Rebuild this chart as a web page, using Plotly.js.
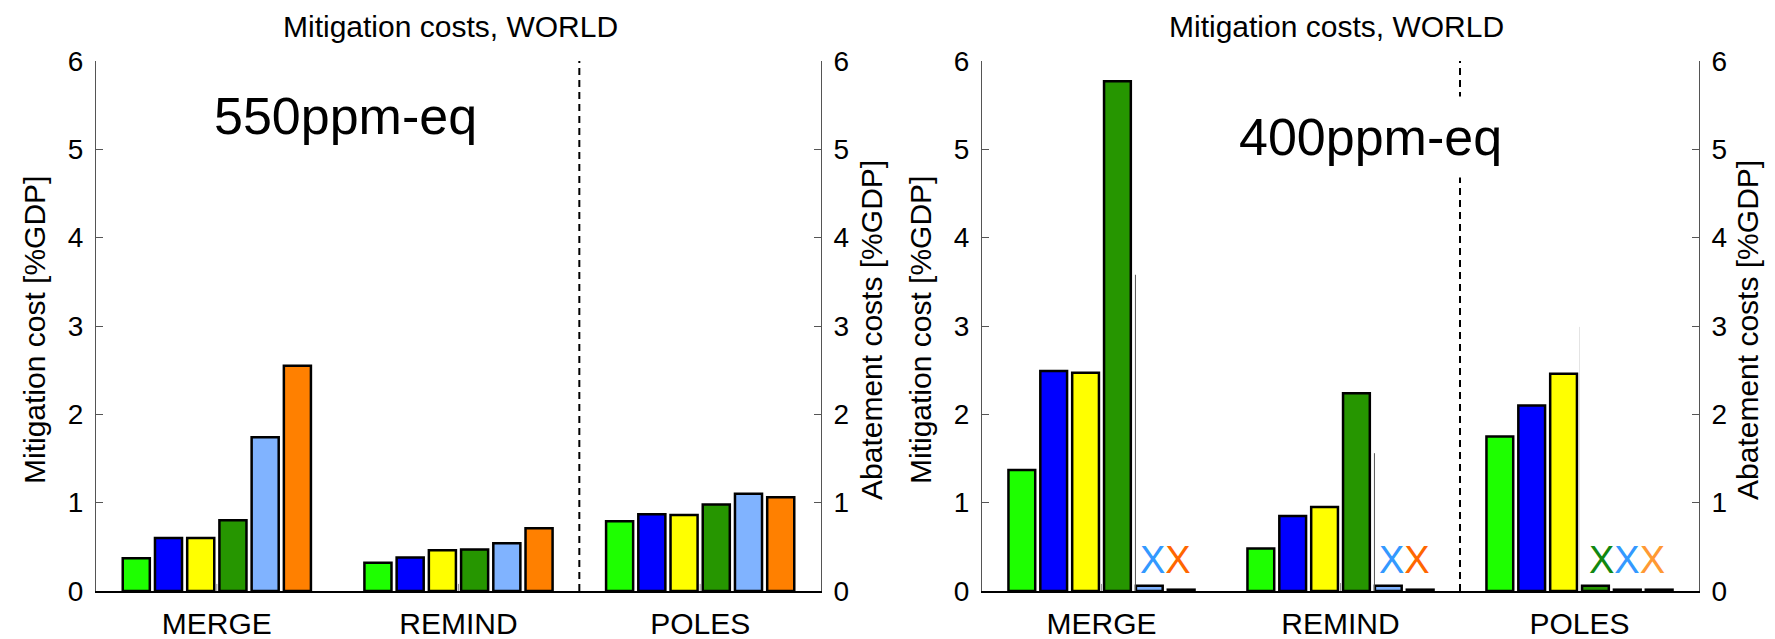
<!DOCTYPE html>
<html>
<head>
<meta charset="utf-8">
<script src="https://cdn.plot.ly/plotly-3.0.1.min.js"></script>
<style>html,body{margin:0;padding:0;background:#fff;}</style>
</head>
<body>
<div id="chart" style="width:1775px;height:639px;"></div>
<script>
// ---------- data ----------
const categories = ['MERGE', 'REMIND', 'POLES'];
const seriesNames = ['Scenario 1', 'Scenario 2', 'Scenario 3', 'Scenario 4', 'Scenario 5', 'Scenario 6'];

// 550ppm-eq mitigation costs [%GDP]
const green550  = [0.37, 0.32, 0.79];
const blue550   = [0.60, 0.38, 0.87];
const yellow550 = [0.60, 0.46, 0.86];
const dgreen550 = [0.80, 0.47, 0.98];
const lblue550  = [1.74, 0.54, 1.10];
const orange550 = [2.55, 0.71, 1.06];

// 400ppm-eq mitigation costs [%GDP]
const green400  = [1.37, 0.48, 1.75];
const blue400   = [2.49, 0.85, 2.10];
const yellow400 = [2.47, 0.95, 2.46];
const dgreen400 = [5.77, 2.24, 0.06];
const lblue400  = [0.06, 0.06, 0.015];
const orange400 = [0.015, 0.015, 0.015];

// abatement costs [%GDP] (thin grey marks, right axis)
const abate550Center = [0.08, 0.08, 0.08];
const abate400Center = [0.08, 0.09, 2.99];
const abate400Side   = [3.58, 1.56, null];

// infeasible scenarios (series index) marked with X in 400ppm-eq panel
const failed400 = [[4, 5], [4, 5], [3, 4, 5]];

// ---------- styles ----------
const barColors = ['#1EFF00', '#0000FF', '#FFFF00', '#269600', '#80B3FF', '#FF8000'];
const xMarkColors = [
  ['#3399FF', '#FF6600'],
  ['#3399FF', '#FF6600'],
  ['#118811', '#3399FF', '#FF9933']
];
const W = 1775, H = 639;
const plotTop = 61, plotBottom = 591;
const leftDom = [96 / W, 821 / W];
const rightDom = [982 / W, 1699 / W];
const yDom = [1 - plotBottom / H, 1 - plotTop / H];
const nSeries = 6, groupWidth = 0.8, barFrac = 0.84;
const slot = groupWidth / nSeries;
function offsetOf(k) { return (k - (nSeries - 1) / 2) * slot; }
const idx = categories.map((c, i) => i);

const data550 = [green550, blue550, yellow550, dgreen550, lblue550, orange550];
const data400 = [green400, blue400, yellow400, dgreen400, lblue400, orange400];

const traces = [];
function addBars(arrs, xa, ya) {
  arrs.forEach((vals, k) => {
    traces.push({
      type: 'bar', x: idx, y: vals, name: seriesNames[k],
      xaxis: xa, yaxis: ya,
      marker: {color: barColors[k], line: {color: '#000', width: 2.5}},
      hoverinfo: 'y+name', showlegend: false
    });
  });
}
addBars(data550, 'x', 'y');
addBars(data400, 'x2', 'y2');

function addLines(vals, off, xa, ya, color) {
  const xs = [], ys = [];
  vals.forEach((v, i) => {
    if (v === null) return;
    xs.push(i + off, i + off, null);
    ys.push(0, v, null);
  });
  traces.push({type: 'scatter', mode: 'lines', x: xs, y: ys, xaxis: xa, yaxis: ya,
    line: {color: color, width: 1}, hoverinfo: 'skip', showlegend: false});
}
addLines(abate550Center, 0, 'x', 'y3', '#999');
addLines(abate400Center.slice(0, 2).concat([null]), 0, 'x2', 'y4', '#999');
addLines([null, null, abate400Center[2]], 0, 'x2', 'y4', '#E4E4E4');
addLines(abate400Side, offsetOf(4) - slot * barFrac / 2 - 0.002, 'x2', 'y4', '#555');

// ---------- layout ----------
const font = 'Liberation Sans, Arial, Helvetica, sans-serif';
function xAxis(dom, anchor) {
  return {domain: dom, anchor: anchor, range: [-0.5, 2.5], tickvals: idx, ticktext: categories,
    showline: true, linecolor: '#000', linewidth: 1.5, ticks: '', showgrid: false, zeroline: false,
    tickfont: {size: 30, family: font, color: '#000'}, ticklabelstandoff: 5, fixedrange: true};
}
function yAxis(anchor, side, overlay) {
  const a = {anchor: anchor, side: side, range: [0, 6], tick0: 0, dtick: 1,
    ticks: 'inside', ticklen: 7, tickcolor: '#555', tickwidth: 1,
    showline: true, linecolor: '#555', linewidth: 1, showgrid: false, zeroline: false,
    tickfont: {size: 28, family: font, color: '#000'}, ticklabelstandoff: 6, fixedrange: true};
  if (overlay) a.overlaying = overlay; else a.domain = yDom;
  return a;
}

const annotations = [];
function pAnn(text, px, py, size, extra) {
  annotations.push(Object.assign({text: text, xref: 'paper', yref: 'paper', x: px / W, y: 1 - py / H,
    xanchor: 'center', yanchor: 'middle', showarrow: false,
    font: {size: size, family: font, color: '#000'}}, extra || {}));
}
pAnn('Mitigation costs, WORLD', 451, 26, 30);
pAnn('Mitigation costs, WORLD', 1336, 26, 30);
pAnn('550ppm-eq', 345, 116, 52);
pAnn('400ppm-eq', 1370, 137, 52, {bgcolor: '#fff', borderpad: 11});
pAnn('Mitigation cost [%GDP]', 34, 330, 30, {textangle: -90});
pAnn('Abatement costs [%GDP]', 871, 330, 30, {textangle: -90});
pAnn('Mitigation cost [%GDP]', 920, 330, 30, {textangle: -90});
pAnn('Abatement costs [%GDP]', 1747, 330, 30, {textangle: -90});

failed400.forEach((list, i) => {
  const mean = list.reduce((s, k) => s + offsetOf(k), 0) / list.length;
  const txt = list.map((k, j) => '<span style="color:' + xMarkColors[i][j] + '">X</span>').join('');
  annotations.push({text: txt, xref: 'x2', yref: 'y2', x: i + mean, y: 0.35,
    xanchor: 'center', yanchor: 'middle', showarrow: false,
    font: {size: 38, family: font}});
});

const shapes = [
  {type: 'line', xref: 'x', yref: 'y', x0: 1.5, x1: 1.5, y0: 0, y1: 6, layer: 'below',
   line: {color: '#000', width: 2, dash: '7px,5px'}},
  {type: 'line', xref: 'x2', yref: 'y2', x0: 1.5, x1: 1.5, y0: 0, y1: 6, layer: 'below',
   line: {color: '#000', width: 2, dash: '7px,5px'}}
];

const layout = {
  width: W, height: H, margin: {l: 0, r: 0, t: 0, b: 0},
  paper_bgcolor: '#fff', plot_bgcolor: 'rgba(0,0,0,0)',
  font: {family: font, color: '#000'},
  barmode: 'group', bargap: 1 - groupWidth, bargroupgap: 1 - barFrac, showlegend: false,
  xaxis: xAxis(leftDom, 'y'),
  yaxis: yAxis('x', 'left'),
  yaxis3: yAxis('x', 'right', 'y'),
  xaxis2: xAxis(rightDom, 'y2'),
  yaxis2: yAxis('x2', 'left'),
  yaxis4: yAxis('x2', 'right', 'y2'),
  annotations: annotations, shapes: shapes
};

Plotly.newPlot('chart', traces, layout, {displayModeBar: false, staticPlot: true});
</script>
</body>
</html>
